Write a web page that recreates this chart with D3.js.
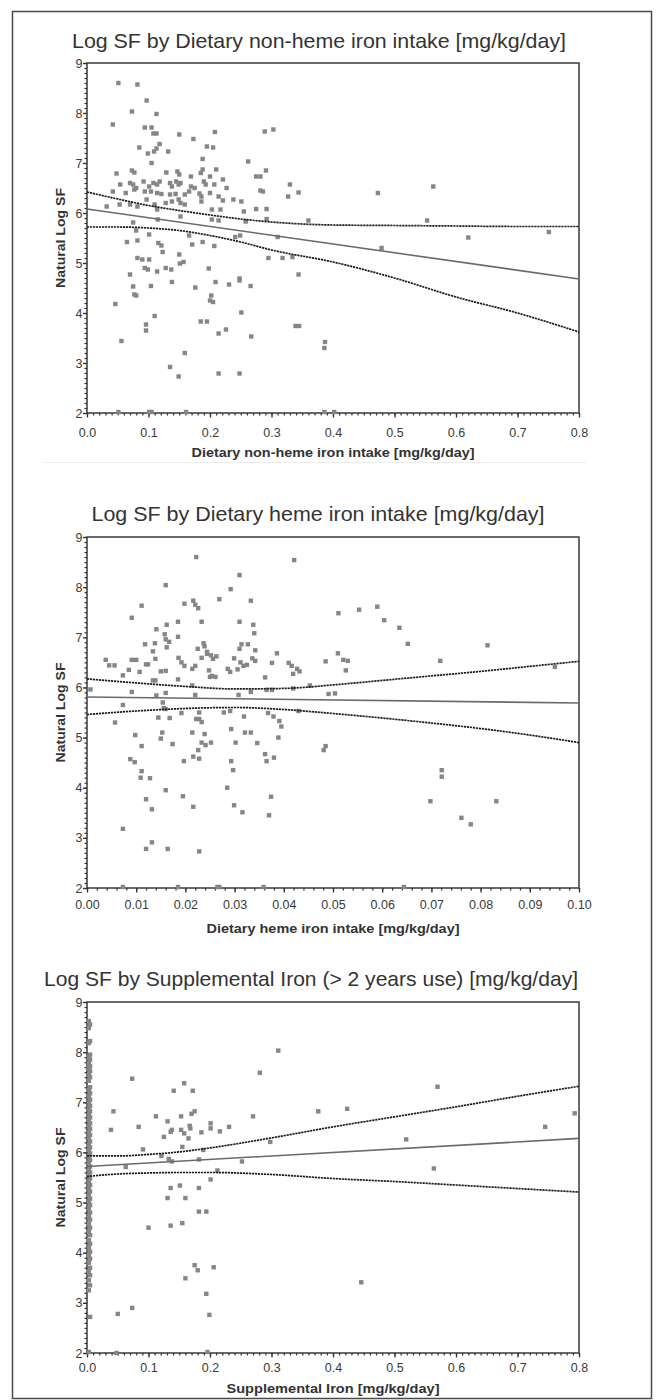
<!DOCTYPE html>
<html>
<head>
<meta charset="utf-8">
<script src="https://cdn.jsdelivr.net/npm/d3@7"></script>
<style>
  body { margin: 0; background: #fff; }
  svg { display: block; }
</style>
</head>
<body>
<div id="chart"></div>
<script>
// ---- data ----
const nonhemePoints = [
  [0.051,8.60],[0.082,8.57],[0.097,8.25],[0.073,8.03],[0.113,7.98],[0.042,7.77],[0.094,7.71],[0.105,7.71],
  [0.108,7.59],[0.113,7.59],[0.150,7.57],[0.173,7.48],[0.208,7.62],[0.289,7.63],[0.303,7.67],[0.085,7.31],
  [0.118,7.38],[0.099,7.19],[0.109,7.23],[0.113,7.29],[0.132,7.23],[0.195,7.33],[0.205,7.31],[0.262,7.03],
  [0.188,7.08],[0.105,7.00],[0.048,6.79],[0.073,6.85],[0.077,6.81],[0.092,6.63],[0.129,6.81],[0.147,6.83],
  [0.150,6.77],[0.169,6.73],[0.185,6.80],[0.188,6.87],[0.210,6.87],[0.275,6.73],[0.282,6.73],[0.291,6.85],
  [0.200,6.73],[0.221,6.67],[0.054,6.57],[0.070,6.60],[0.075,6.57],[0.080,6.50],[0.101,6.53],[0.108,6.60],
  [0.114,6.57],[0.118,6.63],[0.135,6.60],[0.138,6.53],[0.145,6.63],[0.149,6.57],[0.152,6.60],[0.169,6.53],
  [0.175,6.50],[0.190,6.63],[0.193,6.57],[0.207,6.57],[0.227,6.50],[0.330,6.57],[0.042,6.43],[0.063,6.40],
  [0.077,6.47],[0.094,6.43],[0.104,6.43],[0.114,6.40],[0.121,6.38],[0.135,6.37],[0.144,6.38],[0.159,6.37],
  [0.166,6.43],[0.183,6.39],[0.186,6.33],[0.200,6.40],[0.214,6.33],[0.221,6.25],[0.238,6.27],[0.251,6.23],
  [0.282,6.45],[0.286,6.43],[0.344,6.41],[0.327,6.33],[0.473,6.40],[0.563,6.53],[0.032,6.13],[0.053,6.17],
  [0.070,6.17],[0.082,6.13],[0.097,6.27],[0.110,6.17],[0.114,6.07],[0.128,6.20],[0.138,6.23],[0.149,6.27],
  [0.152,6.20],[0.159,6.17],[0.186,6.23],[0.203,6.07],[0.217,6.07],[0.255,6.03],[0.275,6.08],[0.292,6.08],
  [0.553,5.85],[0.258,5.83],[0.292,5.88],[0.360,5.85],[0.075,5.81],[0.115,5.87],[0.152,5.93],[0.203,5.87],
  [0.214,5.85],[0.080,5.65],[0.101,5.57],[0.620,5.51],[0.751,5.62],[0.310,5.52],[0.479,5.30],[0.241,5.52],
  [0.249,5.55],[0.065,5.42],[0.082,5.45],[0.116,5.40],[0.121,5.35],[0.123,5.22],[0.166,5.55],[0.171,5.37],
  [0.188,5.42],[0.207,5.34],[0.082,5.10],[0.090,5.07],[0.101,5.07],[0.070,4.77],[0.094,4.90],[0.099,4.87],
  [0.114,4.83],[0.128,4.90],[0.137,4.87],[0.150,5.17],[0.151,4.99],[0.157,5.02],[0.198,4.89],[0.295,5.10],
  [0.318,5.10],[0.334,5.12],[0.344,4.77],[0.075,4.53],[0.077,4.37],[0.080,4.35],[0.104,4.54],[0.138,4.62],
  [0.176,4.51],[0.209,4.62],[0.231,4.57],[0.248,4.69],[0.248,4.65],[0.266,4.54],[0.202,4.35],[0.205,4.22],
  [0.200,4.25],[0.046,4.18],[0.110,3.94],[0.251,4.01],[0.096,3.77],[0.096,3.65],[0.185,3.83],[0.195,3.83],
  [0.214,3.59],[0.226,3.67],[0.267,3.53],[0.339,3.74],[0.345,3.74],[0.056,3.44],[0.387,3.42],[0.386,3.30],
  [0.159,3.20],[0.135,2.92],[0.149,2.73],[0.214,2.79],[0.248,2.79],[0.051,2.02],[0.101,2.02],[0.105,2.02],
  [0.161,2.02],[0.386,2.02],[0.402,2.02]
];
const nonhemeFit = [[0, 6.08], [0.8, 4.68]];
const nonhemeUpper = [[0,6.42],[0.05,6.28],[0.1,6.15],[0.15,6.05],[0.2,5.96],[0.25,5.88],[0.3,5.82],
  [0.35,5.78],[0.4,5.76],[0.5,5.75],[0.6,5.74],[0.7,5.73],[0.8,5.73]];
const nonhemeLower = [[0,5.72],[0.05,5.72],[0.1,5.70],[0.15,5.65],[0.2,5.55],[0.25,5.42],[0.3,5.26],
  [0.4,5.02],[0.5,4.70],[0.6,4.32],[0.7,4.00],[0.8,3.62]];
const nonhemeTicks = [0, 0.1, 0.2, 0.3, 0.4, 0.5, 0.6, 0.7, 0.8];

const hemePoints = [
  [0.0222,8.60],[0.0421,8.54],[0.0310,8.24],[0.0160,8.04],[0.0292,7.96],[0.0269,7.76],[0.0333,7.73],[0.0111,7.63],
  [0.0198,7.67],[0.0216,7.73],[0.0220,7.65],[0.0226,7.58],[0.0590,7.61],[0.0553,7.55],[0.0511,7.48],[0.0604,7.34],
  [0.0635,7.19],[0.0091,7.39],[0.0162,7.25],[0.0185,7.31],[0.0233,7.31],[0.0310,7.31],[0.0338,7.25],[0.0340,7.08],
  [0.0141,7.16],[0.0158,7.06],[0.0160,6.96],[0.0185,7.01],[0.0167,6.91],[0.0118,6.86],[0.0138,6.88],[0.0162,6.80],
  [0.0237,6.88],[0.0239,6.82],[0.0225,6.77],[0.0244,6.71],[0.0314,6.86],[0.0327,6.86],[0.0310,6.77],[0.0342,6.74],
  [0.0652,6.87],[0.0814,6.84],[0.0510,6.68],[0.0386,6.68],[0.0038,6.55],[0.0045,6.44],[0.0056,6.44],[0.0073,6.24],
  [0.0085,6.35],[0.0091,6.55],[0.0100,6.55],[0.0107,6.31],[0.0120,6.46],[0.0124,6.46],[0.0134,6.72],[0.0139,6.57],
  [0.0150,6.32],[0.0160,6.33],[0.0186,6.59],[0.0192,6.50],[0.0198,6.43],[0.0214,6.37],[0.0220,6.43],[0.0233,6.59],
  [0.0244,6.67],[0.0252,6.64],[0.0248,6.34],[0.0250,6.21],[0.0261,6.21],[0.0256,6.57],[0.0263,6.62],[0.0286,6.37],
  [0.0299,6.58],[0.0306,6.36],[0.0312,6.50],[0.0318,6.43],[0.0325,6.45],[0.0336,6.58],[0.0342,6.53],[0.0376,6.49],
  [0.0410,6.49],[0.0416,6.43],[0.0419,6.27],[0.0427,6.37],[0.0432,6.32],[0.0485,6.52],[0.0521,6.55],[0.0530,6.53],
  [0.0526,6.34],[0.0718,6.53],[0.0951,6.41],[0.0362,6.20],[0.0007,5.96],[0.0091,5.91],[0.0134,6.14],[0.0139,6.14],
  [0.0185,6.16],[0.0214,6.04],[0.0220,5.85],[0.0254,6.23],[0.0291,6.31],[0.0308,5.85],[0.0333,5.91],[0.0365,5.95],
  [0.0376,5.95],[0.0419,5.98],[0.0453,6.04],[0.0491,5.87],[0.0504,5.88],[0.0141,5.84],[0.0160,5.89],
  [0.0073,5.65],[0.0057,5.30],[0.0098,5.05],[0.0111,4.83],[0.0088,4.57],[0.0097,4.51],[0.0111,4.33],[0.0109,4.20],
  [0.0128,4.19],[0.0120,3.77],[0.0132,3.57],[0.0073,3.18],[0.0132,2.91],[0.0120,2.78],[0.0164,2.78],[0.0228,2.73],
  [0.0145,5.40],[0.0154,5.70],[0.0156,5.59],[0.0160,5.57],[0.0168,5.39],[0.0153,5.10],[0.0150,4.98],[0.0174,4.87],
  [0.0160,3.95],[0.0195,3.83],[0.0197,4.53],[0.0192,5.49],[0.0214,5.10],[0.0216,4.62],[0.0216,3.62],[0.0222,5.37],
  [0.0228,5.37],[0.0233,5.31],[0.0228,5.50],[0.0226,4.75],[0.0228,4.58],[0.0233,4.90],[0.0241,4.85],[0.0239,5.07],
  [0.0252,4.90],[0.0278,5.50],[0.0291,5.53],[0.0293,5.17],[0.0302,4.90],[0.0293,4.53],[0.0297,4.35],[0.0285,4.00],
  [0.0299,3.65],[0.0316,3.51],[0.0319,5.42],[0.0321,5.10],[0.0333,5.10],[0.0346,4.89],[0.0362,4.67],[0.0365,4.53],
  [0.0380,4.60],[0.0374,3.82],[0.0370,3.45],[0.0368,5.49],[0.0379,5.42],[0.0391,5.33],[0.0395,5.22],[0.0389,5.00],
  [0.0430,5.53],[0.0481,4.75],[0.0485,4.83],[0.0721,4.35],[0.0721,4.22],[0.0698,3.73],[0.0832,3.73],[0.0761,3.40],
  [0.0780,3.27],[0.0073,2.02],[0.0185,2.02],[0.0265,2.02],[0.0269,2.02],[0.0359,2.02],[0.0644,2.02]
];
const hemeFit = [[0, 5.81], [0.1, 5.69]];
const hemeUpper = [[0,6.17],[0.01,6.09],[0.02,6.02],[0.03,5.97],[0.04,5.98],[0.05,6.05],[0.06,6.14],
  [0.07,6.23],[0.08,6.32],[0.09,6.42],[0.1,6.52]];
const hemeLower = [[0,5.46],[0.01,5.53],[0.02,5.58],[0.03,5.60],[0.04,5.56],[0.05,5.48],[0.06,5.39],
  [0.07,5.29],[0.08,5.18],[0.09,5.05],[0.1,4.90]];
const hemeTicks = [0, 0.01, 0.02, 0.03, 0.04, 0.05, 0.06, 0.07, 0.08, 0.09, 0.1];

// supplemental iron: non-users stacked just right of zero
const suppZeroX = [0.003, 0.005];
const suppZeroY = [8.62,8.55,8.48,8.22,8.18,7.95,7.90,7.85,7.78,7.72,7.68,7.62,7.55,7.50,7.43,7.30,7.25,
  7.18,7.12,7.05,7.00,6.93,6.88,6.82,6.75,6.70,6.65,6.58,6.52,6.47,6.40,6.35,6.30,6.22,6.15,6.10,6.05,5.98,
  5.92,5.85,5.80,5.72,5.66,5.60,5.55,5.48,5.40,5.35,5.28,5.22,5.15,5.08,5.02,4.95,4.88,4.80,4.72,4.66,4.58,
  4.50,4.42,4.35,4.25,4.18,4.10,4.02,3.95,3.88,3.80,3.70,3.62,3.55,3.45,3.35,3.25,2.72,2.02];
const suppPoints = [
  [0.311,8.03],[0.281,7.59],[0.0735,7.47],[0.158,7.38],[0.141,7.23],[0.172,7.23],[0.570,7.31],[0.043,6.82],
  [0.112,6.72],[0.131,6.62],[0.153,6.72],[0.170,6.77],[0.175,6.82],[0.270,6.72],[0.376,6.82],[0.423,6.87],
  [0.793,6.78],[0.039,6.45],[0.084,6.51],[0.125,6.31],[0.136,6.41],[0.138,6.45],[0.153,6.45],[0.158,6.38],
  [0.167,6.53],[0.168,6.48],[0.165,6.28],[0.186,6.40],[0.201,6.58],[0.201,6.48],[0.216,6.42],[0.231,6.51],
  [0.155,6.11],[0.189,6.05],[0.091,6.06],[0.298,6.21],[0.519,6.26],[0.745,6.51],[0.121,5.93],[0.133,5.87],
  [0.138,5.82],[0.182,5.86],[0.252,5.82],[0.564,5.68],[0.063,5.71],[0.212,5.64],[0.201,5.46],[0.136,5.29],
  [0.151,5.34],[0.131,5.09],[0.182,5.29],[0.160,5.09],[0.182,4.82],[0.194,4.82],[0.100,4.50],[0.136,4.54],
  [0.155,4.59],[0.175,3.75],[0.180,3.65],[0.206,3.71],[0.160,3.49],[0.446,3.41],[0.194,3.18],[0.0735,2.90],
  [0.050,2.78],[0.199,2.76],[0.048,2.00],[0.196,2.02]
];
const suppFit = [[0, 5.72], [0.8, 6.28]];
const suppUpper = [[0,5.93],[0.05,5.93],[0.1,5.96],[0.15,6.01],[0.2,6.09],[0.3,6.29],[0.4,6.51],[0.5,6.71],
  [0.6,6.91],[0.7,7.12],[0.8,7.32]];
const suppLower = [[0,5.52],[0.05,5.57],[0.1,5.59],[0.15,5.60],[0.2,5.60],[0.3,5.56],[0.4,5.48],[0.5,5.42],
  [0.6,5.35],[0.7,5.28],[0.8,5.21]];
const suppTicks = nonhemeTicks;

const yTicks = [2, 3, 4, 5, 6, 7, 8, 9];

// ---- layout ----
const width = 658, height = 1400;
const plotLeft = 87, plotRight = 579;

const panels = [
  {
    title: "Log SF by Dietary non-heme iron intake [mg/kg/day]",
    xLabel: "Dietary non-heme iron intake [mg/kg/day]",
    points: nonhemePoints, fit: nonhemeFit, upper: nonhemeUpper, lower: nonhemeLower,
    domain: [0, 0.8], ticks: nonhemeTicks, minorStep: 0.01, fmt: d3.format(".1f"),
    top: 63, bottom: 413, titleY: 48, titleX: 319, titleW: 494, xLabelW: 283,
    tickY: 437, xLabelY: 457, yLabelW: 100
  },
  {
    title: "Log SF by Dietary heme iron intake [mg/kg/day]",
    xLabel: "Dietary heme iron intake [mg/kg/day]",
    points: hemePoints, fit: hemeFit, upper: hemeUpper, lower: hemeLower,
    domain: [0, 0.1], ticks: hemeTicks, minorStep: 0.002, fmt: d3.format(".2f"),
    top: 537, bottom: 888, titleY: 521, titleX: 318, titleW: 453, xLabelW: 253,
    tickY: 909, xLabelY: 933, yLabelW: 100
  },
  {
    title: "Log SF by Supplemental Iron (> 2 years use) [mg/kg/day]",
    xLabel: "Supplemental Iron [mg/kg/day]",
    points: suppPoints.concat(suppZeroY.map((v, i) => [suppZeroX[i % 2], v])),
    fit: suppFit, upper: suppUpper, lower: suppLower,
    domain: [0, 0.8], ticks: suppTicks, minorStep: 0.01, fmt: d3.format(".1f"),
    top: 1002, bottom: 1353, titleY: 986, titleX: 311, titleW: 534, xLabelW: 213,
    tickY: 1372, xLabelY: 1393, yLabelW: 100
  }
];

const svg = d3.select("#chart").append("svg")
  .attr("width", width)
  .attr("height", height)
  .attr("viewBox", `0 0 ${width} ${height}`)
  .style("font-family", "'Liberation Sans', Arial, sans-serif");

svg.append("rect")
  .attr("width", width).attr("height", height).attr("fill", "#fff");

// outer frame
svg.append("rect")
  .attr("x", 12.5).attr("y", 11.5)
  .attr("width", 639).attr("height", 1387)
  .attr("fill", "none")
  .attr("stroke", "#4a4a4a")
  .attr("stroke-width", 1.5);

// faint seam under the first panel
svg.append("line")
  .attr("x1", 44).attr("x2", 586)
  .attr("y1", 462.5).attr("y2", 462.5)
  .attr("stroke", "#ececec")
  .attr("stroke-width", 1);

panels.forEach(p => {
  const x = d3.scaleLinear().domain(p.domain).range([plotLeft, plotRight]);
  const y = d3.scaleLinear().domain([2, 9]).range([p.bottom, p.top]);
  const g = svg.append("g");

  // title
  g.append("text")
    .attr("x", p.titleX).attr("y", p.titleY)
    .attr("text-anchor", "middle")
    .attr("font-family", "'Liberation Sans Narrow', 'Arial Narrow', 'Liberation Sans', sans-serif")
    .attr("font-size", 21)
    .attr("fill", "#333")
    .attr("textLength", p.titleW)
    .attr("lengthAdjust", "spacingAndGlyphs")
    .text(p.title);

  // plot box
  g.append("rect")
    .attr("x", plotLeft).attr("y", p.top)
    .attr("width", plotRight - plotLeft).attr("height", p.bottom - p.top)
    .attr("fill", "none")
    .attr("stroke", "#3a3a3a")
    .attr("stroke-width", 1.5);

  // minor ticks
  const minorX = d3.range(p.domain[0], p.domain[1] + p.minorStep / 2, p.minorStep);
  g.append("g")
    .attr("transform", `translate(0,${p.bottom})`)
    .call(d3.axisBottom(x).tickValues(minorX).tickSize(2.5).tickFormat(""))
    .call(a => a.select(".domain").remove())
    .call(a => a.selectAll("line").attr("stroke", "#333").attr("stroke-width", 1.2));

  g.append("g")
    .attr("transform", `translate(${plotLeft},0)`)
    .call(d3.axisLeft(y).tickValues(d3.range(2, 9.05, 0.1)).tickSize(2.5).tickFormat(""))
    .call(a => a.select(".domain").remove())
    .call(a => a.selectAll("line").attr("stroke", "#333").attr("stroke-width", 1.2));

  // major ticks + labels
  const xAxis = g.append("g")
    .attr("transform", `translate(0,${p.bottom})`)
    .call(d3.axisBottom(x).tickValues(p.ticks).tickFormat(p.fmt).tickSize(4.5).tickPadding(0));
  xAxis.select(".domain").remove();
  xAxis.selectAll("line").attr("stroke", "#333").attr("stroke-width", 1.3);
  xAxis.selectAll("text")
    .attr("dy", null)
    .attr("y", p.tickY - p.bottom)
    .attr("font-size", 12.5)
    .attr("font-family", "'Liberation Sans', Arial, sans-serif")
    .attr("fill", "#3a3a3a");

  const yAxis = g.append("g")
    .attr("transform", `translate(${plotLeft},0)`)
    .call(d3.axisLeft(y).tickValues(yTicks).tickFormat(d3.format("d")).tickSize(4).tickPadding(0.5));
  yAxis.select(".domain").remove();
  yAxis.selectAll("line").attr("stroke", "#333").attr("stroke-width", 1.3);
  yAxis.selectAll("text")
    .attr("font-size", 12.5)
    .attr("font-family", "'Liberation Sans', Arial, sans-serif")
    .attr("fill", "#3a3a3a");

  // axis titles
  g.append("text")
    .attr("x", (plotLeft + plotRight) / 2).attr("y", p.xLabelY)
    .attr("text-anchor", "middle")
    .attr("font-size", 12.5)
    .attr("font-weight", "bold")
    .attr("fill", "#333")
    .attr("textLength", p.xLabelW)
    .attr("lengthAdjust", "spacingAndGlyphs")
    .text(p.xLabel);

  g.append("text")
    .attr("transform", `translate(65,${(p.top + p.bottom) / 2}) rotate(-90)`)
    .attr("text-anchor", "middle")
    .attr("font-size", 12.5)
    .attr("font-weight", "bold")
    .attr("fill", "#333")
    .attr("textLength", p.yLabelW)
    .attr("lengthAdjust", "spacingAndGlyphs")
    .text("Natural Log SF");

  // points
  g.append("g")
    .selectAll("rect")
    .data(p.points)
    .join("rect")
    .attr("x", d => x(d[0]) - 2.2)
    .attr("y", d => y(d[1]) - 2.2)
    .attr("width", 4.4)
    .attr("height", 4.4)
    .attr("fill", "#868686");

  // confidence limits
  const band = d3.line()
    .x(d => x(d[0]))
    .y(d => y(d[1]))
    .curve(d3.curveMonotoneX);

  [p.upper, p.lower].forEach(b => {
    g.append("path")
      .datum(b)
      .attr("d", band)
      .attr("fill", "none")
      .attr("stroke", "#1a1a1a")
      .attr("stroke-width", 1.7)
      .attr("stroke-dasharray", "2.2 0.8");
  });

  // fitted line
  g.append("path")
    .datum(p.fit)
    .attr("d", d3.line().x(d => x(d[0])).y(d => y(d[1])))
    .attr("fill", "none")
    .attr("stroke", "#6a6a6a")
    .attr("stroke-width", 1.6);
});
</script>
</body>
</html>
